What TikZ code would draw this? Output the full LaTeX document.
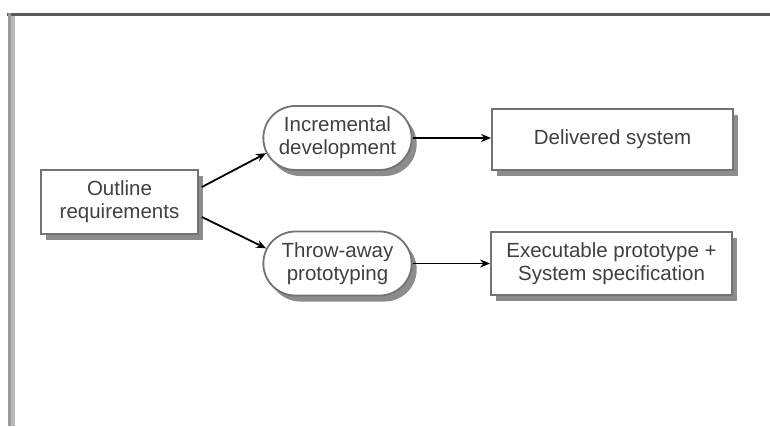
\documentclass[tikz,border=0pt]{standalone}
\usepackage{fontspec}
\setmainfont{Liberation Sans}
\usetikzlibrary{positioning,shapes.misc,shadows,arrows.meta}

\begin{document}
\begin{tikzpicture}[
  x=1pt, y=-1pt,
  stagebox/.style={rectangle, draw=black!55, line width=1.8pt, fill=white,
                   align=center, text=black!75,
                   font=\fontsize{20.5}{23}\selectfont,
                   drop shadow={shadow xshift=5pt, shadow yshift=-6pt,
                                fill=black!45, opacity=1}},
  procbox/.style={stagebox, rounded rectangle},
  flow/.style={-{Stealth[length=10pt, width=8pt]}, line width=1.8pt, black}
]
  \useasboundingbox (0,0) rectangle (770,426);

  % frame of the page
  \draw[line width=3pt, black!65] (7,14.5) -- (770,14.5);
  \draw[line width=3.5pt, black!40] (9.5,13) -- (9.5,426);
  \draw[line width=3.5pt, black!28] (13,16) -- (13,426);

  % boxes
  \node[stagebox, minimum width=157pt, minimum height=64pt] (outline) at (119.5,202)
    {Outline\\requirements};
  \node[procbox, minimum width=155pt, minimum height=64pt] (incr) at (337.5,138)
    {Incremental\\development};
  \node[procbox, minimum width=155pt, minimum height=64pt] (throw) at (337.5,263.5)
    {Throw-away\\prototyping};
  \node[stagebox, minimum width=241pt, minimum height=61pt] (deliv) at (612.5,139.5)
    {Delivered system};
  \node[stagebox, minimum width=241pt, minimum height=63pt] (exec) at (611.5,263.5)
    {Executable prototype +\\System specification};

  % arrows
  \draw[flow] ([xshift=3pt, yshift=15pt]outline.east) -- (incr.192);
  \draw[flow] ([xshift=3pt, yshift=-15pt]outline.east) -- (throw.168);
  \draw[flow] (incr.east) -- (incr.east -| deliv.west);
  \draw[flow] (throw.east) -- (throw.east -| exec.west);
\end{tikzpicture}
\end{document}
